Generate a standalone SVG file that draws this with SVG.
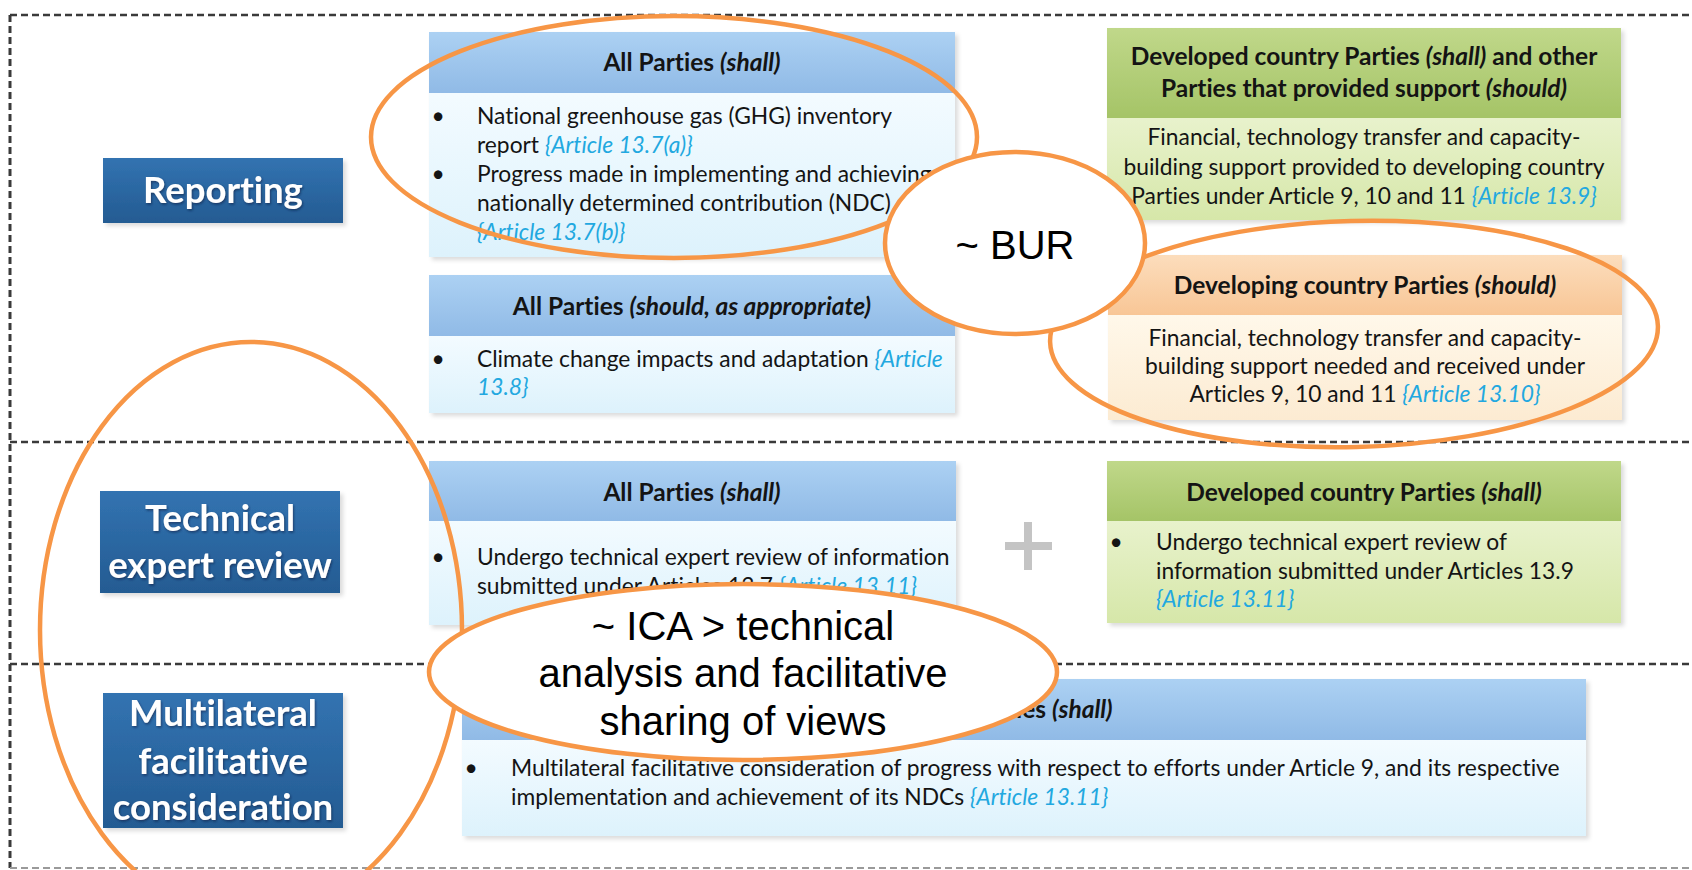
<svg xmlns="http://www.w3.org/2000/svg" width="1692" height="870" viewBox="0 0 1692 870">
  <defs>
    <linearGradient id="gLabel" x1="0" y1="0" x2="0" y2="1">
      <stop offset="0" stop-color="#3273B1"/>
      <stop offset="1" stop-color="#245B92"/>
    </linearGradient>
    <linearGradient id="gBlueHead" x1="0" y1="0" x2="0" y2="1">
      <stop offset="0" stop-color="#ACD1F3"/>
      <stop offset="1" stop-color="#90BAE6"/>
    </linearGradient>
    <linearGradient id="gBlueBody" x1="0" y1="0" x2="0" y2="1">
      <stop offset="0" stop-color="#F3FBFF"/>
      <stop offset="1" stop-color="#DDF2FC"/>
    </linearGradient>
    <linearGradient id="gGreenHead" x1="0" y1="0" x2="0" y2="1">
      <stop offset="0" stop-color="#C0D88A"/>
      <stop offset="1" stop-color="#A5C467"/>
    </linearGradient>
    <linearGradient id="gGreenBody" x1="0" y1="0" x2="0" y2="1">
      <stop offset="0" stop-color="#E8F2CC"/>
      <stop offset="1" stop-color="#D6E7A9"/>
    </linearGradient>
    <linearGradient id="gOrangeHead" x1="0" y1="0" x2="0" y2="1">
      <stop offset="0" stop-color="#FCDDBC"/>
      <stop offset="1" stop-color="#F8C696"/>
    </linearGradient>
    <linearGradient id="gOrangeBody" x1="0" y1="0" x2="0" y2="1">
      <stop offset="0" stop-color="#FFF8EA"/>
      <stop offset="1" stop-color="#FCEBD2"/>
    </linearGradient>
    <filter id="shadow" x="-5%" y="-5%" width="115%" height="120%">
      <feDropShadow dx="3" dy="3" stdDeviation="2" flood-color="#000" flood-opacity="0.14"/>
    </filter>
    <filter id="txtShadow" x="-5%" y="-10%" width="110%" height="130%">
      <feDropShadow dx="1" dy="1.5" stdDeviation="1" flood-color="#0A2440" flood-opacity="0.6"/>
    </filter>
  </defs>
  <style>
    .t { font-family: Lato, "Open Sans", "Liberation Sans", sans-serif; font-size: 22.8px; fill: #141414; font-variant-ligatures: none; }
    .hd { font-weight: bold; font-size: 24.5px; text-anchor: middle; }
    .ctr { text-anchor: middle; }
    .it { font-style: italic; }
    .ref { font-style: italic; fill: #22A8E0; }
    .lbl { font-family: Lato, "Open Sans", "Liberation Sans", sans-serif; font-weight: bold; font-size: 36.5px; fill: #FFFFFF; text-anchor: middle; font-variant-ligatures: none; }
    .callout { font-family: "Liberation Sans", Arial, sans-serif; font-size: 40px; fill: #000; text-anchor: middle; }
    .dash { stroke: #3A3A3A; stroke-width: 2.5; stroke-dasharray: 7 4; fill: none; }
    .ring { fill: none; stroke: #F79646; stroke-width: 4.5; }
    .bubble { fill: #FFFFFF; stroke: #F79646; stroke-width: 4.5; }
  </style>

  <rect x="0" y="0" width="1692" height="870" fill="#FFFFFF"/>

  <!-- section frame and dividers -->
  <g id="frame">
    <line class="dash" x1="10" y1="15" x2="1692" y2="15"/>
    <line class="dash" x1="10" y1="15" x2="10" y2="868" style="stroke-width:3"/>
    <line class="dash" x1="10" y1="442" x2="1692" y2="442"/>
    <line class="dash" x1="10" y1="664" x2="1692" y2="664"/>
    <line class="dash" x1="10" y1="868" x2="1692" y2="868" style="stroke:#9A9A9A;stroke-width:2"/>
  </g>

  <!-- row labels -->
  <g id="label-reporting">
    <rect x="103" y="158" width="240" height="65" fill="url(#gLabel)" filter="url(#shadow)"/>
    <text class="lbl" x="223" y="203" filter="url(#txtShadow)">Reporting</text>
  </g>
  <g id="label-technical">
    <rect x="100" y="491" width="240" height="102" fill="url(#gLabel)" filter="url(#shadow)"/>
    <text class="lbl" x="220" y="531" filter="url(#txtShadow)">Technical</text>
    <text class="lbl" x="220" y="578" filter="url(#txtShadow)">expert review</text>
  </g>
  <g id="label-multilateral">
    <rect x="103" y="693" width="240" height="135" fill="url(#gLabel)" filter="url(#shadow)"/>
    <text class="lbl" x="223" y="726" filter="url(#txtShadow)">Multilateral</text>
    <text class="lbl" x="223" y="774" filter="url(#txtShadow)">facilitative</text>
    <text class="lbl" x="223" y="820" filter="url(#txtShadow)">consideration</text>
  </g>

  <!-- reporting: all parties (shall) -->
  <g id="rep-all-shall">
    <g filter="url(#shadow)">
      <rect x="429" y="32" width="526" height="61" fill="url(#gBlueHead)"/>
      <rect x="429" y="93" width="526" height="164" fill="url(#gBlueBody)"/>
    </g>
    <text class="t hd" x="692" y="71">All Parties <tspan class="it">(shall)</tspan></text>
    <text class="t" x="438" y="124" text-anchor="middle">•</text>
    <text class="t" x="477" y="124">National greenhouse gas (GHG) inventory</text>
    <text class="t" x="477" y="153">report <tspan class="ref">{Article 13.7(a)}</tspan></text>
    <text class="t" x="438" y="182" text-anchor="middle">•</text>
    <text class="t" x="477" y="182">Progress made in implementing and achieving</text>
    <text class="t" x="477" y="211">nationally determined contribution (NDC)</text>
    <text class="t ref" x="477" y="240">{Article 13.7(b)}</text>
  </g>

  <!-- reporting: all parties (should, as appropriate) -->
  <g id="rep-all-should">
    <g filter="url(#shadow)">
      <rect x="429" y="275" width="526" height="61" fill="url(#gBlueHead)"/>
      <rect x="429" y="336" width="526" height="77" fill="url(#gBlueBody)"/>
    </g>
    <text class="t hd" x="692" y="315">All Parties <tspan class="it">(should, as appropriate)</tspan></text>
    <text class="t" x="438" y="367" text-anchor="middle">•</text>
    <text class="t" x="477" y="367">Climate change impacts and adaptation <tspan class="ref">{Article</tspan></text>
    <text class="t ref" x="477" y="395">13.8}</text>
  </g>

  <!-- reporting: developed country parties -->
  <g id="rep-developed">
    <g filter="url(#shadow)">
      <rect x="1107" y="28" width="514" height="90" fill="url(#gGreenHead)"/>
      <rect x="1107" y="118" width="514" height="102" fill="url(#gGreenBody)"/>
    </g>
    <text class="t hd" x="1364" y="65">Developed country Parties <tspan class="it">(shall)</tspan> and other</text>
    <text class="t hd" x="1364" y="97">Parties that provided support <tspan class="it">(should)</tspan></text>
    <text class="t ctr" x="1364" y="145">Financial, technology transfer and capacity-</text>
    <text class="t ctr" x="1364" y="175">building support provided to developing country</text>
    <text class="t ctr" x="1364" y="204">Parties under Article 9, 10 and 11 <tspan class="ref">{Article 13.9}</tspan></text>
  </g>

  <!-- reporting: developing country parties -->
  <g id="rep-developing">
    <g filter="url(#shadow)">
      <rect x="1108" y="255" width="514" height="60" fill="url(#gOrangeHead)"/>
      <rect x="1108" y="315" width="514" height="105" fill="url(#gOrangeBody)"/>
    </g>
    <text class="t hd" x="1365" y="294">Developing country Parties <tspan class="it">(should)</tspan></text>
    <text class="t ctr" x="1365" y="346">Financial, technology transfer and capacity-</text>
    <text class="t ctr" x="1365" y="374">building support needed and received under</text>
    <text class="t ctr" x="1365" y="402">Articles 9, 10 and 11 <tspan class="ref">{Article 13.10}</tspan></text>
  </g>

  <!-- technical expert review: all parties -->
  <g id="ter-all-shall">
    <g filter="url(#shadow)">
      <rect x="429" y="461" width="527" height="60" fill="url(#gBlueHead)"/>
      <rect x="429" y="521" width="527" height="104" fill="url(#gBlueBody)"/>
    </g>
    <text class="t hd" x="692" y="501">All Parties <tspan class="it">(shall)</tspan></text>
    <text class="t" x="438" y="565" text-anchor="middle">•</text>
    <text class="t" x="477" y="565">Undergo technical expert review of information</text>
    <text class="t" x="477" y="594">submitted under Articles 13.7 <tspan class="ref">{Article 13.11}</tspan></text>
  </g>

  <!-- plus sign between the two review boxes -->
  <g id="plus">
    <rect x="1005" y="542" width="47" height="8" fill="#C4C4C4"/>
    <rect x="1024" y="522" width="8" height="48" fill="#C4C4C4"/>
  </g>

  <!-- technical expert review: developed country parties -->
  <g id="ter-developed">
    <g filter="url(#shadow)">
      <rect x="1107" y="461" width="514" height="60" fill="url(#gGreenHead)"/>
      <rect x="1107" y="521" width="514" height="102" fill="url(#gGreenBody)"/>
    </g>
    <text class="t hd" x="1364" y="501">Developed country Parties <tspan class="it">(shall)</tspan></text>
    <text class="t" x="1116" y="550" text-anchor="middle">•</text>
    <text class="t" x="1156" y="550">Undergo technical expert review of</text>
    <text class="t" x="1156" y="579">information submitted under Articles 13.9</text>
    <text class="t ref" x="1156" y="607">{Article 13.11}</text>
  </g>

  <!-- multilateral facilitative consideration: all parties -->
  <g id="mfc-all-shall">
    <g filter="url(#shadow)">
      <rect x="462" y="679" width="1124" height="61" fill="url(#gBlueHead)"/>
      <rect x="462" y="740" width="1124" height="96" fill="url(#gBlueBody)"/>
    </g>
    <text class="t hd" x="1024" y="718">All Parties <tspan class="it">(shall)</tspan></text>
    <text class="t" x="471" y="776" text-anchor="middle">•</text>
    <text class="t" x="511" y="776">Multilateral facilitative consideration of progress with respect to efforts under Article 9, and its respective</text>
    <text class="t" x="511" y="805">implementation and achievement of its NDCs <tspan class="ref">{Article 13.11}</tspan></text>
  </g>

  <!-- highlight rings and callouts -->
  <g id="connectors">
    <ellipse id="ring-national" class="ring" cx="674" cy="137" rx="303" ry="121"/>
    <ellipse id="ring-developing" class="ring" cx="1354" cy="334" rx="304" ry="113" transform="rotate(-1.5 1354 334)"/>
    <ellipse id="ring-review" class="ring" cx="251" cy="630" rx="211" ry="288"/>
  </g>
  <g id="callout-bur">
    <ellipse class="bubble" cx="1015" cy="243" rx="130" ry="91"/>
    <text class="callout" x="1015" y="259">~ BUR</text>
  </g>
  <g id="callout-ica">
    <ellipse class="bubble" cx="743" cy="672" rx="314" ry="88"/>
    <text class="callout" x="743" y="640">~ ICA &gt; technical</text>
    <text class="callout" x="743" y="687">analysis and facilitative</text>
    <text class="callout" x="743" y="735">sharing of views</text>
  </g>
</svg>
